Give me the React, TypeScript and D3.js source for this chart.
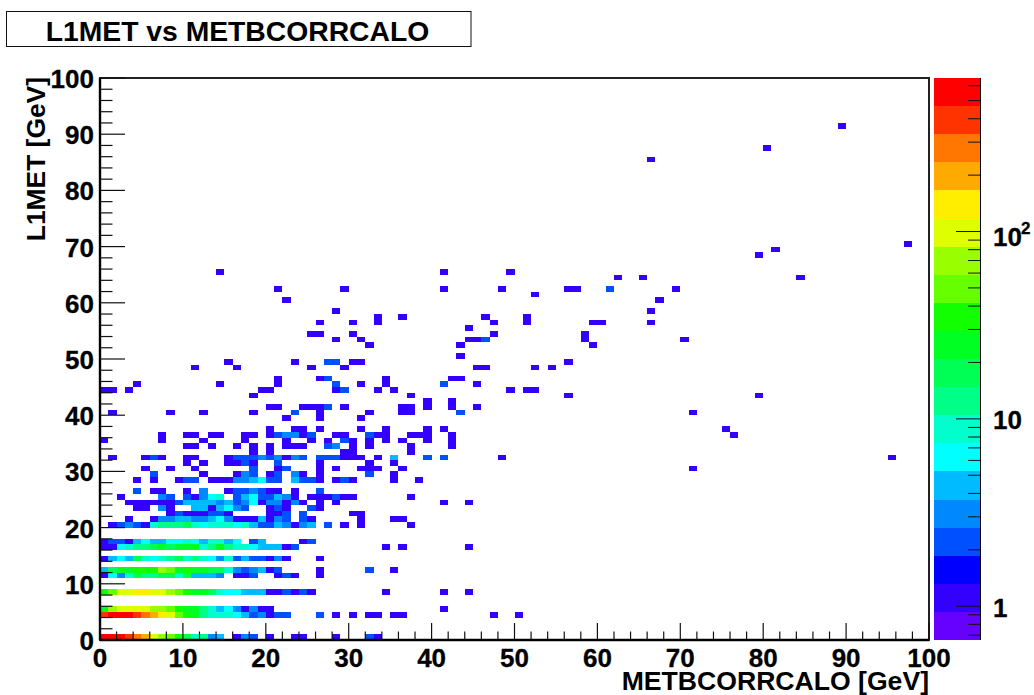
import React from "react";
import * as d3 from "d3";

// colour bands of the z axis, lowest first
const palette = [
  "#6600ff", "#3300ff", "#0000ff", "#0050ff", "#0088ff", "#00bbff", "#00ffff",
  "#00ffcc", "#00ff88", "#00ff55", "#00ff22", "#11ff00", "#66ff00", "#99ff00",
  "#ddff00", "#ffee00", "#ffaa00", "#ff7700", "#ff3300", "#ff0000",
];

const xTickLabels = [0, 10, 20, 30, 40, 50, 60, 70, 80, 90, 100];
const yTickLabels = [0, 10, 20, 30, 40, 50, 60, 70, 80, 90, 100];
const zMinorTicks = [0.7, 0.8, 0.9, 2, 3, 4, 5, 6, 7, 8, 9, 20, 30, 40, 50, 60, 70, 80, 90, 200, 300, 400, 500, 600];
const zMajorTicks = [1, 10, 100];

// busy low rows: entry i is the count in the 1 GeV bin starting at x = i
const row0 = [550, 550, 550, 400, 280, 200, 100, 70, 50, 35, 18, 10, 12, 3, 5, 0, 1, 3, 2, 0, 1, 0, 0, 1, 1, 0, 0, 0, 1, 0, 0, 0, 2, 1];
const row4 = [400, 550, 550, 550, 400, 280, 200, 140, 100, 50, 35, 25, 12, 10, 10, 10, 7, 5, 2, 3, 1, 2, 2, 0, 0, 0, 2, 0, 1, 0, 1, 0, 1, 1, 0, 1, 1];
const row5 = [25, 70, 100, 100, 100, 100, 70, 70, 50, 35, 25, 25, 12, 10, 5, 7, 3, 1, 3, 1, 1];
const row8 = [35, 50, 100, 100, 140, 140, 100, 100, 70, 50, 35, 25, 25, 18, 10, 7, 7, 5, 5, 5, 1, 1, 2, 1, 2, 1];
const row11 = [1, 7, 3, 10, 18, 14, 14, 18, 18, 10, 18, 5, 5, 5, 3, 0, 1, 1, 2, 0, 0, 1, 2, 1, 0, 0, 1];
const row12 = [5, 18, 25, 25, 35, 35, 35, 70, 50, 25, 35, 25, 25, 18, 18, 10, 3, 2, 3, 5, 1, 2, 0, 0, 0, 0, 1];
const row14 = [1, 5, 7, 5, 18, 10, 7, 10, 12, 18, 10, 12, 10, 7, 3, 10, 2, 5, 2, 2, 1, 3, 1, 0, 0, 0, 1];
const row16 = [1, 1, 7, 10, 12, 12, 18, 25, 18, 25, 25, 25, 10, 12, 25, 12, 10, 10, 7, 5, 5, 5, 1, 2];
const row17 = [1, 2, 2, 1, 5, 7, 5, 5, 7, 7, 10, 7, 5, 10, 10, 5, 7, 0, 2, 5, 0, 0, 0, 0, 1, 2];
const row20 = [0, 1, 2, 3, 2, 1, 10, 14, 14, 14, 18, 10, 7, 10, 10, 10, 7, 10, 5, 2, 2, 5, 3, 1, 3, 5, 0, 2, 0, 1, 0, 1];
const row21 = [0, 0, 0, 1, 0, 0, 1, 3, 3, 5, 5, 3, 3, 5, 7, 3, 1, 1, 1, 5, 1, 3, 2, 0, 2, 1, 0, 0, 0, 0, 0, 1];
const denseRows: [number, number[]][] = [
  [0, row0], [4, row4], [5, row5], [8, row8], [11, row11], [12, row12],
  [14, row14], [16, row16], [17, row17], [20, row20], [21, row21],
];

// sparse part: [y bin, x bins] per count
const oneEntry: [number, number[]][] = [
  [4, [47, 50]], [5, [41]], [8, [34, 41, 44]], [12, [35]], [16, [34, 36, 44]], [20, [37]], [21, [35, 36]],
  [22, [8, 10, 11, 12, 15, 20, 21, 30, 31]],
  [23, [4, 5, 8, 13, 20, 22, 26]],
  [24, [3, 4, 5, 6, 7, 8, 19, 22, 24, 26, 28, 41, 44]],
  [25, [2, 11, 23, 25, 26, 27, 29, 30, 37]],
  [26, [6, 7, 10, 15, 20, 21, 23]],
  [28, [4, 6, 9, 13, 14, 15, 26, 28, 30, 35, 38]],
  [29, [12, 16, 20, 24, 26, 35]],
  [30, [5, 8, 11, 21, 26, 28, 31, 32, 33, 36, 71]],
  [31, [10, 12, 15, 16, 18, 26, 32, 35]],
  [32, [1, 5, 7, 10, 11, 15, 22, 29, 30, 31, 33, 48, 95]],
  [33, [18, 20, 29, 30, 37]],
  [34, [10, 11, 13, 16, 18, 20, 22, 23, 24, 30, 32, 37, 42]],
  [35, [0, 7, 12, 17, 22, 25, 27, 30, 32, 34, 36, 39, 42]],
  [36, [7, 10, 11, 13, 14, 17, 18, 20, 24, 28, 29, 33, 34, 37, 38, 39, 42, 76]],
  [37, [20, 23, 24, 26, 31, 34, 39, 41, 75]],
  [39, [22, 26, 31]],
  [40, [1, 8, 12, 18, 26, 32, 36, 37, 71]],
  [41, [20, 21, 24, 25, 26, 29, 36, 37, 39, 42, 45]],
  [42, [39, 42]],
  [43, [18, 37, 56, 79]],
  [44, [0, 1, 3, 19, 20, 28, 33, 35, 49, 51, 52]],
  [45, [4, 14, 21, 31, 34, 45]],
  [46, [21, 26, 34, 42, 43]],
  [48, [11, 16, 25, 29, 45, 46, 52, 54]],
  [49, [15, 23, 30, 31, 56]],
  [50, [43]],
  [52, [32, 43, 59]],
  [53, [28, 31, 44, 45, 58, 70]],
  [54, [25, 26, 30, 47, 58]],
  [55, [44]],
  [56, [26, 30, 33, 47, 51, 59, 60, 66]],
  [57, [33, 36, 46, 51]],
  [58, [28, 66]],
  [60, [22, 67]],
  [61, [52]],
  [62, [21, 29, 41, 48, 56, 57, 69]],
  [64, [62, 65, 84]],
  [65, [14, 41, 49]],
  [68, [79]], [69, [81]], [70, [97]], [85, [66]], [87, [80]], [91, [89]],
];
const twoEntries: [number, number[]][] = [
  [12, [32]],
  [22, [9, 13, 14, 22, 24]],
  [23, [17, 21, 25]],
  [24, [9, 16]],
  [25, [8, 10, 16, 19, 20, 28]],
  [26, [4, 16, 17, 19, 26]],
  [28, [10, 11, 20, 21, 24, 25, 29]],
  [29, [6, 18, 21, 32]],
  [30, [18, 22]],
  [31, [17, 21]],
  [32, [6, 16, 17, 18, 20, 24, 26, 27, 28, 39, 41]],
  [34, [27]],
  [35, [29]],
  [36, [21, 25, 32]],
  [40, [23, 43]],
  [41, [27]],
  [44, [29]],
  [45, [28, 41]],
  [46, [27]],
  [49, [27, 28]],
  [53, [46]],
  [62, [61]],
];
const threeEntries: [number, number[]][] = [
  [23, [7, 16]],
  [24, [14, 17, 20, 21, 23]],
  [25, [7, 12, 22]],
  [26, [12, 18]],
  [28, [16, 17]],
  [29, [17, 23]],
  [32, [19, 21, 23]],
  [34, [28]],
  [36, [22, 23]],
];
const fiveEntries: [number, number[]][] = [
  [23, [11, 12, 14]],
  [24, [10, 11, 12, 13, 15]],
  [25, [17, 21]],
  [28, [18, 23]],
  [32, [35]],
];
const sevenEntries: [number, number[]][] = [
  [23, [15]],
  [24, [18]],
  [25, [13, 18]],
  [28, [19]],
];
const tenEntries: [number, number[]][] = [[25, [14]]];
const sparseGroups: [number, [number, number[]][]][] = [
  [1, oneEntry], [2, twoEntries], [3, threeEntries], [5, fiveEntries], [7, sevenEntries], [10, tenEntries],
];

const cells: { ix: number; iy: number; z: number }[] = [];
denseRows.forEach(([iy, counts]) =>
  counts.forEach((z, ix) => {
    if (z > 0) cells.push({ ix, iy, z });
  })
);
sparseGroups.forEach(([z, rows]) =>
  rows.forEach(([iy, bins]) => bins.forEach((ix) => cells.push({ ix, iy, z })))
);

const width = 1034;
const height = 695;
const font = "'Liberation Sans', Arial, sans-serif";
const ink = "#111";

const x = d3.scaleLinear().domain([0, 100]).range([100, 929]);
const y = d3.scaleLinear().domain([0, 100]).range([640, 78]);
const zPos = d3.scaleLog().domain([0.66, 660]).range([640, 78]);
const bandOf = d3
  .scaleQuantize<string>()
  .domain([Math.log10(0.66), Math.log10(660)])
  .range(palette);
const zColor = (z: number) => bandOf(Math.log10(z));

export default function App() {
  return (
    <svg
      width={width}
      height={height}
      viewBox={`0 0 ${width} ${height}`}
      style={{ position: "fixed", left: 0, top: 0, background: "#fff", fontFamily: font }}
    >
      {/* title box */}
      <rect x={6.5} y={11.5} width={464.5} height={35} fill="#fff" stroke={ink} strokeWidth={1} />
      <text x={237.5} y={41} textAnchor="middle" fontSize={28.3} fontWeight="bold" fill="#000">
        L1MET vs METBCORRCALO
      </text>

      {/* 2D histogram */}
      <g shapeRendering="crispEdges">
        {cells.map((c, i) => (
          <rect
            key={i}
            x={x(c.ix)}
            y={y(c.iy + 1)}
            width={x(c.ix + 1) - x(c.ix)}
            height={y(c.iy) - y(c.iy + 1)}
            fill={zColor(c.z)}
          />
        ))}
      </g>

      {/* frame */}
      <rect x={x(0)} y={y(100)} width={x(100) - x(0)} height={y(0) - y(100)} fill="none" stroke="#222" strokeWidth={2} />
      <line x1={x(0)} x2={x(0)} y1={y(0)} y2={y(100)} stroke="#000" strokeWidth={2.4} />
      <line x1={x(0)} x2={x(100)} y1={y(0)} y2={y(0)} stroke="#000" strokeWidth={2.4} />

      {/* x axis */}
      {x.ticks(50).map((t) => {
        const major = t % 10 === 0;
        return <line key={t} x1={x(t)} x2={x(t)} y1={y(0)} y2={y(0) - (major ? 17 : 8.5)} stroke={ink} strokeWidth={1.2} />;
      })}
      {xTickLabels.map((t) => (
        <text key={t} x={x(t)} y={667} textAnchor="middle" fontSize={26} fontWeight="bold" fill="#000" stroke="#000" strokeWidth={0.3}>
          {t}
        </text>
      ))}
      <text x={929} y={689.5} textAnchor="end" fontSize={26.6} fontWeight="bold" fill="#000">
        METBCORRCALO [GeV]
      </text>

      {/* y axis */}
      {y.ticks(50).map((t) => {
        const major = t % 10 === 0;
        return <line key={t} x1={x(0)} x2={x(0) + (major ? 25 : 12.5)} y1={y(t)} y2={y(t)} stroke={ink} strokeWidth={1.2} />;
      })}
      {yTickLabels.map((t) => (
        <text key={t} x={94} y={y(t) + 10} textAnchor="end" fontSize={26} fontWeight="bold" fill="#000" stroke="#000" strokeWidth={0.3}>
          {t}
        </text>
      ))}
      <text transform="translate(45,77) rotate(-90)" textAnchor="end" fontSize={26.4} fontWeight="bold" fill="#000">
        L1MET [GeV]
      </text>

      {/* colour bar */}
      <g shapeRendering="crispEdges">
        {palette.map((c) => {
          const [lo, hi] = bandOf.invertExtent(c);
          const top = zPos(Math.pow(10, hi));
          const bottom = zPos(Math.pow(10, lo));
          return <rect key={c} x={934} y={top} width={46} height={bottom - top} fill={c} />;
        })}
      </g>
      <line x1={980.5} x2={980.5} y1={zPos(660)} y2={zPos(0.66)} stroke="#000" strokeWidth={1} />
      {zMinorTicks.map((t) => (
        <line key={t} x1={968} x2={980} y1={zPos(t)} y2={zPos(t)} stroke={ink} strokeWidth={1} />
      ))}
      {zMajorTicks.map((t) => (
        <line key={t} x1={956} x2={980} y1={zPos(t)} y2={zPos(t)} stroke={ink} strokeWidth={1} />
      ))}
      <text x={993} y={zPos(1) + 10.5} fontSize={26} fontWeight="bold" fill="#000" stroke="#000" strokeWidth={0.3}>1</text>
      <text x={993} y={zPos(10) + 10} fontSize={26} fontWeight="bold" fill="#000" stroke="#000" strokeWidth={0.3}>10</text>
      <text x={993} y={zPos(100) + 14.5} fontSize={26} fontWeight="bold" fill="#000" stroke="#000" strokeWidth={0.3}>10</text>
      <text x={1021} y={zPos(100) + 2} fontSize={17} fontWeight="bold" fill="#000" stroke="#000" strokeWidth={0.3}>2</text>
    </svg>
  );
}
